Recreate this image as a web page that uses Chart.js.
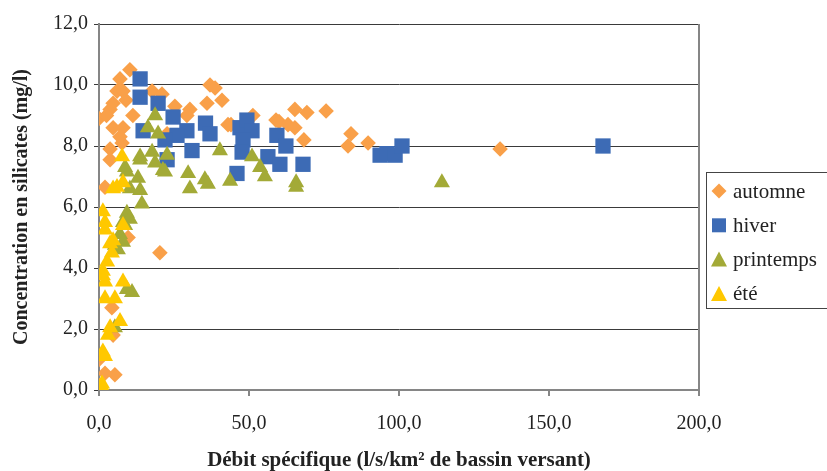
<!DOCTYPE html>
<html>
<head>
<meta charset="utf-8">
<script src="https://cdn.jsdelivr.net/npm/chart.js@4/dist/chart.umd.min.js"></script>
<style>
  body { margin: 0; background: #fff; }
</style>
</head>
<body>
<canvas id="chart" width="827" height="471"></canvas>
<script>
const seriesNames = ['automne', 'hiver', 'printemps', 'été'];
const seriesColors = ['#F9A049', '#3D6BB5', '#A3AA37', '#FFC800'];
const seriesShapes = ['rectRot', 'rect', 'triangle', 'triangle'];

// [débit spécifique, concentration]
const automne = [
    [0, 8.9], [10.3, 10.5], [7, 10.2], [6, 9.8], [8, 9.8], [4.7, 9.4], [3.7, 9.2], [4.7, 8.6],
    [8, 8.6], [11.3, 9.0], [17.7, 9.8], [21, 9.7], [25.3, 9.3], [30.3, 9.2], [29.3, 9.0],
    [3.7, 7.9], [3.7, 7.55], [7.7, 8.1], [7, 8.3], [43, 8.7], [51.3, 9.0], [37, 10.0],
    [38.7, 9.9], [41, 9.5], [36, 9.4], [22.7, 8.4], [2, 6.65], [20.3, 4.5], [9.7, 5.0],
    [4.3, 2.7], [0, 1.0], [2, 0.55], [5.3, 0.5], [0.3, 0.15], [4.7, 1.8], [44, 8.7],
    [59, 8.85], [65.3, 9.2], [69.3, 9.1], [75.7, 9.15], [60, 8.8], [63, 8.7], [65.3, 8.6],
    [68.3, 8.2], [84, 8.4], [83, 8.0], [89.7, 8.1], [133.7, 7.9], [2.5, 9.0], [9, 9.5]
];
const hiver = [
    [13.7, 10.2], [13.7, 9.6], [19.7, 9.4], [24.7, 8.95], [29.3, 8.5], [35.5, 8.75], [37, 8.4],
    [26, 8.35], [14.7, 8.5], [22, 8.2], [31, 7.85], [22.7, 7.55], [46, 7.1], [47, 8.6],
    [49.3, 8.85], [51, 8.5], [48, 8.2], [47.7, 7.8], [56.3, 7.65], [60.3, 7.4], [59.3, 8.35],
    [62.3, 8.0], [68, 7.4], [93.7, 7.7], [96, 7.75], [98.7, 7.7], [101, 8.0], [168, 8.0]
];
const printemps = [
    [18.7, 9.0], [16.3, 8.6], [19.7, 8.4], [13.7, 7.65], [17.7, 7.8], [22.7, 7.7], [18.7, 7.45],
    [22, 7.15], [29.7, 7.1], [30.3, 6.6], [35.3, 6.9], [36.3, 6.75], [40.3, 7.85], [43.7, 6.85],
    [51, 7.65], [53.7, 7.3], [55.3, 7.0], [65.7, 6.8], [65.7, 6.65], [114.3, 6.8], [9.3, 7.15],
    [13, 6.95], [10.3, 6.6], [13.7, 6.55], [14.3, 6.1], [9.3, 5.8], [8, 5.5], [7, 5.1],
    [8, 4.85], [21.3, 7.2], [13.7, 7.55], [8.7, 5.4], [5.3, 4.75], [6.3, 4.6], [11, 3.2],
    [9.3, 3.3], [5.3, 2.05], [10.3, 5.6], [8.7, 7.3]
];
const ete = [
    [7.7, 7.65], [8, 6.8], [4.7, 6.6], [6, 6.65], [1.3, 5.85], [2, 5.5], [8, 5.4], [2, 5.25],
    [4.7, 4.9], [4.3, 4.5], [2.7, 4.2], [1.3, 3.75], [2, 3.55], [8, 3.55], [2, 3.0], [5.3, 3.0],
    [7, 2.25], [3.7, 2.05], [3, 1.8], [1.3, 1.25], [2, 1.1], [1.3, 0.05], [1, 0.2], [3.7, 4.8],
    [1.3, 3.9]
];
const seriesData = [automne, hiver, printemps, ete];
const pointRadii = [7.8, 10.8, 9.3, 9.3];

const xTicks = [0, 50, 100, 150, 200];
const yTicks = [0, 2, 4, 6, 8, 10, 12];

const serif = 'Liberation Serif, Tinos, DejaVu Serif, serif';
const axisGray = '#868686';
const fmt = (v) => v.toFixed(1).replace('.', ',');

function drawMarker(ctx, shape, x, y, color) {
    ctx.fillStyle = color;
    ctx.beginPath();
    if (shape === 'rectRot') {
        ctx.moveTo(x - 7.5, y); ctx.lineTo(x, y - 7.5); ctx.lineTo(x + 7.5, y); ctx.lineTo(x, y + 7.5);
    } else if (shape === 'rect') {
        ctx.rect(x - 7, y - 7, 14, 14);
    } else {
        ctx.moveTo(x, y - 8); ctx.lineTo(x + 8, y + 7); ctx.lineTo(x - 8, y + 7);
    }
    ctx.closePath();
    ctx.fill();
}

const frameAndLegend = {
    id: 'frameAndLegend',
    afterDatasetsDraw(chart) {
        const { ctx, chartArea } = chart;
        ctx.save();
        ctx.strokeStyle = axisGray;
        ctx.lineWidth = 2;
        ctx.beginPath();
        ctx.moveTo(chartArea.right, chartArea.top);
        ctx.lineTo(chartArea.right, chartArea.bottom);
        ctx.stroke();
        ctx.restore();
    },
    afterDraw(chart) {
        const ctx = chart.ctx;
        ctx.save();
        ctx.strokeStyle = '#444';
        ctx.lineWidth = 1;
        ctx.strokeRect(706.5, 172.5, 130, 136);
        ctx.font = 'normal 400 21px ' + serif;
        ctx.textBaseline = 'middle';
        ctx.textAlign = 'left';
        seriesNames.forEach((name, i) => {
            const y = 191 + i * 34.3;
            drawMarker(ctx, seriesShapes[i], 719, y, seriesColors[i]);
            ctx.fillStyle = '#222';
            ctx.fillText(name, 733, y + 1);
        });
        ctx.restore();
    }
};

function makeChart() {
    new Chart(document.getElementById('chart'), {
        type: 'scatter',
        data: {
            datasets: seriesData.map((pts, i) => ({
                label: seriesNames[i],
                data: pts.map(([x, y]) => ({ x, y })),
                pointStyle: seriesShapes[i],
                pointRadius: pointRadii[i],
                pointBackgroundColor: seriesColors[i],
                pointBorderWidth: 0,
                order: seriesData.length - i,
            })),
        },
        options: {
            responsive: false,
            animation: false,
            events: [],
            layout: { padding: { top: 24, right: 128, bottom: 0, left: 0 } },
            plugins: {
                legend: { display: false },
                tooltip: { enabled: false },
            },
            scales: {
                x: {
                    type: 'linear',
                    min: xTicks[0],
                    max: xTicks[xTicks.length - 1],
                    afterBuildTicks(scale) { scale.ticks = xTicks.map((v) => ({ value: v })); },
                    afterFit(scale) { scale.height = 81; },
                    ticks: {
                        callback: (v) => fmt(v),
                        font: { family: serif, size: 20, weight: 'normal' },
                        color: '#222',
                        padding: 16,
                        maxRotation: 0,
                    },
                    grid: { drawOnChartArea: false, drawTicks: true, tickLength: 6, color: axisGray, lineWidth: 2 },
                    border: { color: axisGray, width: 2 },
                    title: {
                        display: true,
                        text: 'Débit spécifique (l/s/km² de bassin versant)',
                        font: { family: serif, size: 21, weight: 'bold', lineHeight: 1 },
                        color: '#222',
                        padding: { top: 0, bottom: 0 },
                    },
                },
                y: {
                    min: yTicks[0],
                    max: yTicks[yTicks.length - 1],
                    afterBuildTicks(scale) { scale.ticks = yTicks.map((v) => ({ value: v })); },
                    afterFit(scale) { scale.width = 99; },
                    ticks: {
                        callback: (v) => fmt(v),
                        font: { family: serif, size: 20, weight: 'normal' },
                        color: '#222',
                        padding: 6,
                    },
                    grid: { color: '#3a3a3a', lineWidth: 1, tickLength: 5, drawTicks: true },
                    border: { color: axisGray, width: 2 },
                    title: {
                        display: true,
                        text: 'Concentration en silicates (mg/l)',
                        font: { family: serif, size: 20, weight: 'bold', lineHeight: 1 },
                        color: '#222',
                        padding: { top: 12, bottom: 0 },
                    },
                },
            },
        },
        plugins: [frameAndLegend],
    });
}

Promise.all([
    document.fonts.load('20px "Liberation Serif"'),
    document.fonts.load('bold 20px "Liberation Serif"'),
]).catch(() => null).then(makeChart);
</script>
</body>
</html>
